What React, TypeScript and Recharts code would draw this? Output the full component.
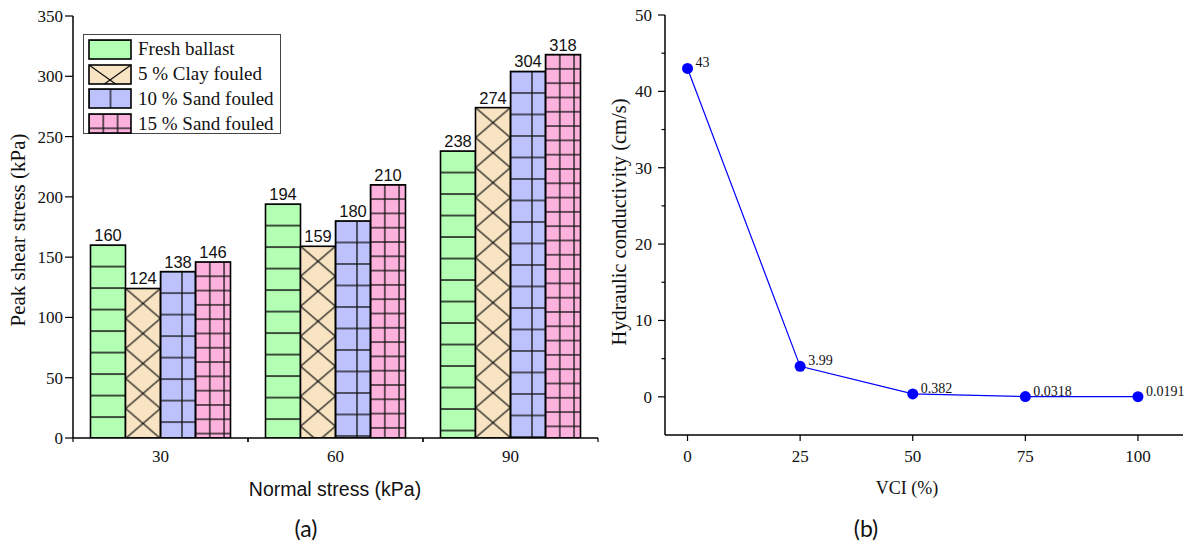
import React from 'react'
import {
  BarChart,
  Bar,
  XAxis,
  YAxis,
  LabelList,
  Legend,
  LineChart,
  Line,
} from 'recharts'

// (a) peak shear stress per normal stress
const stressCategories = ['30', '60', '90']
const freshBallast = [160, 194, 238]
const clayFouled5 = [124, 159, 274]
const sandFouled10 = [138, 180, 304]
const sandFouled15 = [146, 210, 318]
const shearTicks = [0, 50, 100, 150, 200, 250, 300, 350]

// (b) hydraulic conductivity vs VCI
const vciValues = [0, 25, 50, 75, 100]
const conductivity = [43, 3.99, 0.382, 0.0318, 0.0191]
const conductivityLabels = ['43', '3.99', '0.382', '0.0318', '0.0191']
const vciTicks = [0, 25, 50, 75, 100]
const conductivityTicks = [0, 5, 10, 15, 20, 25, 30, 35, 40, 45, 50]

const SERIF = '"Liberation Serif", "Times New Roman", serif'
const SANS = '"Liberation Sans", Arial, sans-serif'

type Kind = 'rows' | 'cross' | 'grid' | 'fine'

const series: { key: string; name: string; fill: string; kind: Kind }[] = [
  { key: 'fresh', name: 'Fresh ballast', fill: '#b3ffb3', kind: 'rows' },
  { key: 'clay5', name: '5 % Clay fouled', fill: '#f8e4c2', kind: 'cross' },
  { key: 'sand10', name: '10 % Sand fouled', fill: '#bdc2fd', kind: 'grid' },
  { key: 'sand15', name: '15 % Sand fouled', fill: '#fdb1dd', kind: 'fine' },
]

const shearData = stressCategories.map((stress, i) => ({
  stress,
  fresh: freshBallast[i],
  clay5: clayFouled5[i],
  sand10: sandFouled10[i],
  sand15: sandFouled15[i],
}))

const conductivityData = vciValues.map((vci, i) => ({
  vci,
  k: conductivity[i],
  label: conductivityLabels[i],
}))

function patternDef(id: string, kind: Kind, x: number, y: number, w: number) {
  const ln = { stroke: '#111', strokeWidth: 1.3 }
  if (kind === 'rows') {
    const s = 21.5
    return (
      <pattern id={id} patternUnits="userSpaceOnUse" x={x} y={y} width={w} height={s}>
        <line x1={0} y1={0} x2={w} y2={0} {...ln} />
        <line x1={0} y1={s} x2={w} y2={s} {...ln} />
      </pattern>
    )
  }
  if (kind === 'cross') {
    const s = 30
    return (
      <pattern id={id} patternUnits="userSpaceOnUse" x={x} y={y} width={w} height={s}>
        <line x1={0} y1={0} x2={w} y2={s} {...ln} />
        <line x1={w} y1={0} x2={0} y2={s} {...ln} />
      </pattern>
    )
  }
  const s = kind === 'grid' ? 21.5 : 14.3
  return (
    <pattern id={id} patternUnits="userSpaceOnUse" x={x} y={y} width={s} height={s}>
      <line x1={0} y1={0} x2={s} y2={0} {...ln} />
      <line x1={0} y1={s} x2={s} y2={s} {...ln} />
      <line x1={0} y1={0} x2={0} y2={s} {...ln} />
      <line x1={s} y1={0} x2={s} y2={s} {...ln} />
    </pattern>
  )
}

const makeShape = (s: (typeof series)[number]) => (props: any) => {
  const { x, y, width, height, index } = props
  if (!height || height <= 0) return <g />
  const id = `bar-${s.key}-${index}`
  return (
    <g>
      <defs>{patternDef(id, s.kind, x, y, width)}</defs>
      <rect x={x} y={y} width={width} height={height} fill={s.fill} />
      <rect x={x} y={y} width={width} height={height} fill={`url(#${id})`} />
      <rect
        x={x}
        y={y}
        width={width}
        height={height}
        fill="none"
        stroke="#000"
        strokeWidth={1.6}
      />
    </g>
  )
}

function ShearLegend() {
  return (
    <div
      style={{
        boxSizing: 'border-box',
        width: '100%',
        height: '100%',
        border: '1px solid #444',
        background: '#fff',
        padding: '2px 4px 0 4px',
        fontFamily: SERIF,
        fontSize: 19,
        color: '#111',
      }}
    >
      {series.map((s) => (
        <div
          key={s.key}
          style={{ display: 'flex', alignItems: 'center', height: 24.8 }}
        >
          <svg width={44} height={21}>
            <defs>{patternDef(`leg-${s.key}`, s.kind, 1, 1, 42)}</defs>
            <rect x={1} y={1} width={42} height={19} fill={s.fill} />
            <rect x={1} y={1} width={42} height={19} fill={`url(#leg-${s.key})`} />
            <rect
              x={1}
              y={1}
              width={42}
              height={19}
              fill="none"
              stroke="#000"
              strokeWidth={1.6}
            />
          </svg>
          <span style={{ marginLeft: 6, whiteSpace: 'nowrap' }}>{s.name}</span>
        </div>
      ))}
    </div>
  )
}

function CategoryTick(props: any) {
  const { x, y, payload } = props
  const half = payload?.offset || 87.5
  return (
    <g>
      <line x1={x - half} y1={y} x2={x - half} y2={y + 4} stroke="#000" strokeWidth={1.2} />
      <line x1={x + half} y1={y} x2={x + half} y2={y + 4} stroke="#000" strokeWidth={1.2} />
      <text
        x={x}
        y={y + 24}
        textAnchor="middle"
        fontFamily={SERIF}
        fontSize={17}
        fill="#111"
      >
        {payload.value}
      </text>
    </g>
  )
}

function ShearTick(props: any) {
  const { x, y, payload } = props
  return (
    <g>
      <line x1={x - 8} y1={y} x2={x} y2={y} stroke="#000" strokeWidth={1.2} />
      <text
        x={x - 10}
        y={y}
        dy="0.35em"
        textAnchor="end"
        fontFamily={SERIF}
        fontSize={17}
        fill="#111"
      >
        {payload.value}
      </text>
    </g>
  )
}

function VciTick(props: any) {
  const { x, y, payload } = props
  return (
    <g>
      <line x1={x} y1={y} x2={x} y2={y + 6} stroke="#000" strokeWidth={1.2} />
      <text
        x={x}
        y={y + 27}
        textAnchor="middle"
        fontFamily={SERIF}
        fontSize={17}
        fill="#111"
      >
        {payload.value}
      </text>
    </g>
  )
}

function ConductivityTick(props: any) {
  const { x, y, payload } = props
  const major = payload.value % 10 === 0
  return (
    <g>
      <line x1={x - (major ? 7 : 3.5)} y1={y} x2={x} y2={y} stroke="#000" strokeWidth={1.2} />
      {major && (
        <text
          x={x - 13}
          y={y}
          dy="0.35em"
          textAnchor="end"
          fontFamily={SERIF}
          fontSize={17}
          fill="#111"
        >
          {payload.value}
        </text>
      )}
    </g>
  )
}

const pointLabel = (p: any) => (
  <text
    x={p.x + 8}
    y={p.y - 1}
    fontFamily={SERIF}
    fontSize={14}
    fill="#111"
  >
    {p.value}
  </text>
)

const abs = (style: React.CSSProperties): React.CSSProperties => ({
  position: 'absolute',
  whiteSpace: 'nowrap',
  transform: 'translate(-50%, -50%)',
  ...style,
})

export default function App() {
  return (
    <div
      style={{
        position: 'absolute',
        left: 0,
        top: 0,
        width: 1186,
        height: 544,
        background: '#fff',
        overflow: 'hidden',
      }}
    >
      <div style={{ position: 'absolute', left: 0, top: 0 }}>
        <BarChart
          width={620}
          height={470}
          data={shearData}
          margin={{ top: 16, right: 22, left: 0, bottom: 0 }}
          barCategoryGap="10%"
          barGap={0}
        >
          <XAxis
            dataKey="stress"
            height={32}
            axisLine={{ stroke: '#000', strokeWidth: 1.5 }}
            tickLine={false}
            tickSize={0}
            tickMargin={0}
            tick={<CategoryTick />}
            interval={0}
          />
          <XAxis
            xAxisId="top"
            dataKey="stress"
            orientation="top"
            height={0}
            tick={false}
            tickLine={false}
            axisLine={{ stroke: '#222', strokeWidth: 1.5 }}
          />
          <YAxis
            width={73}
            domain={[0, 350]}
            ticks={shearTicks}
            allowDataOverflow
            axisLine={{ stroke: '#000', strokeWidth: 1.5 }}
            tickLine={false}
            tickSize={0}
            tickMargin={0}
            tick={<ShearTick />}
          />
          <YAxis
            yAxisId="right"
            orientation="right"
            width={0}
            tick={false}
            tickLine={false}
            axisLine={{ stroke: '#555', strokeWidth: 1.5 }}
          />
          <Legend
            layout="vertical"
            align="center"
            verticalAlign="middle"
            wrapperStyle={{ top: 34, left: 83, width: 198, height: 100 }}
            content={<ShearLegend />}
          />
          {series.map((s) => (
            <Bar
              key={s.key}
              dataKey={s.key}
              name={s.name}
              fill={s.fill}
              shape={makeShape(s)}
              isAnimationActive={false}
            >
              <LabelList
                dataKey={s.key}
                position="top"
                offset={4}
                style={{ fontFamily: SANS, fontSize: 16.5, fill: '#111' }}
              />
            </Bar>
          ))}
        </BarChart>
      </div>

      <div style={{ position: 'absolute', left: 600, top: 0 }}>
        <LineChart
          width={586}
          height={470}
          data={conductivityData}
          margin={{ top: 15, right: 3, left: 0, bottom: 0 }}
        >
          <XAxis
            dataKey="vci"
            type="number"
            domain={[-5, 110]}
            ticks={vciTicks}
            allowDataOverflow
            height={35}
            axisLine={{ stroke: '#000', strokeWidth: 1.5 }}
            tickLine={false}
            tickSize={0}
            tickMargin={0}
            tick={<VciTick />}
            interval={0}
          />
          <XAxis
            xAxisId="top"
            dataKey="vci"
            type="number"
            domain={[-5, 110]}
            orientation="top"
            height={0}
            tick={false}
            tickLine={false}
            axisLine={{ stroke: '#222', strokeWidth: 1.5 }}
          />
          <YAxis
            width={65}
            domain={[-5, 50]}
            ticks={conductivityTicks}
            allowDataOverflow
            interval={0}
            axisLine={{ stroke: '#000', strokeWidth: 1.5 }}
            tickLine={false}
            tickSize={0}
            tickMargin={0}
            tick={<ConductivityTick />}
          />
          <YAxis
            yAxisId="right"
            orientation="right"
            width={0}
            tick={false}
            tickLine={false}
            axisLine={{ stroke: '#555', strokeWidth: 1.5 }}
          />
          <Line
            dataKey="k"
            stroke="#0000ff"
            strokeWidth={1.2}
            dot={{ r: 5.5, fill: '#0000ff', stroke: 'none' }}
            activeDot={false}
            isAnimationActive={false}
          >
            <LabelList dataKey="label" content={pointLabel} />
          </Line>
        </LineChart>
      </div>

      <div
        style={abs({
          left: 18,
          top: 230,
          transform: 'translate(-50%, -50%) rotate(-90deg)',
          fontFamily: SERIF,
          fontSize: 21,
          color: '#111',
        })}
      >
        Peak shear stress (kPa)
      </div>
      <div style={abs({ left: 335, top: 489, fontFamily: SANS, fontSize: 19.5, color: '#111' })}>
        Normal stress (kPa)
      </div>
      <div
        style={abs({
          left: 619,
          top: 222,
          transform: 'translate(-50%, -50%) rotate(-90deg)',
          fontFamily: SERIF,
          fontSize: 20.5,
          color: '#111',
        })}
      >
        Hydraulic conductivity (cm/s)
      </div>
      <div style={abs({ left: 907, top: 488, fontFamily: SERIF, fontSize: 18, color: '#111' })}>
        VCI (%)
      </div>
      <div style={abs({ left: 306, top: 528, fontFamily: 'Lato, "Open Sans", sans-serif', fontSize: 23, color: '#111' })}>
        (a)
      </div>
      <div style={abs({ left: 866, top: 528, fontFamily: 'Lato, "Open Sans", sans-serif', fontSize: 23, color: '#111' })}>
        (b)
      </div>
    </div>
  )
}
